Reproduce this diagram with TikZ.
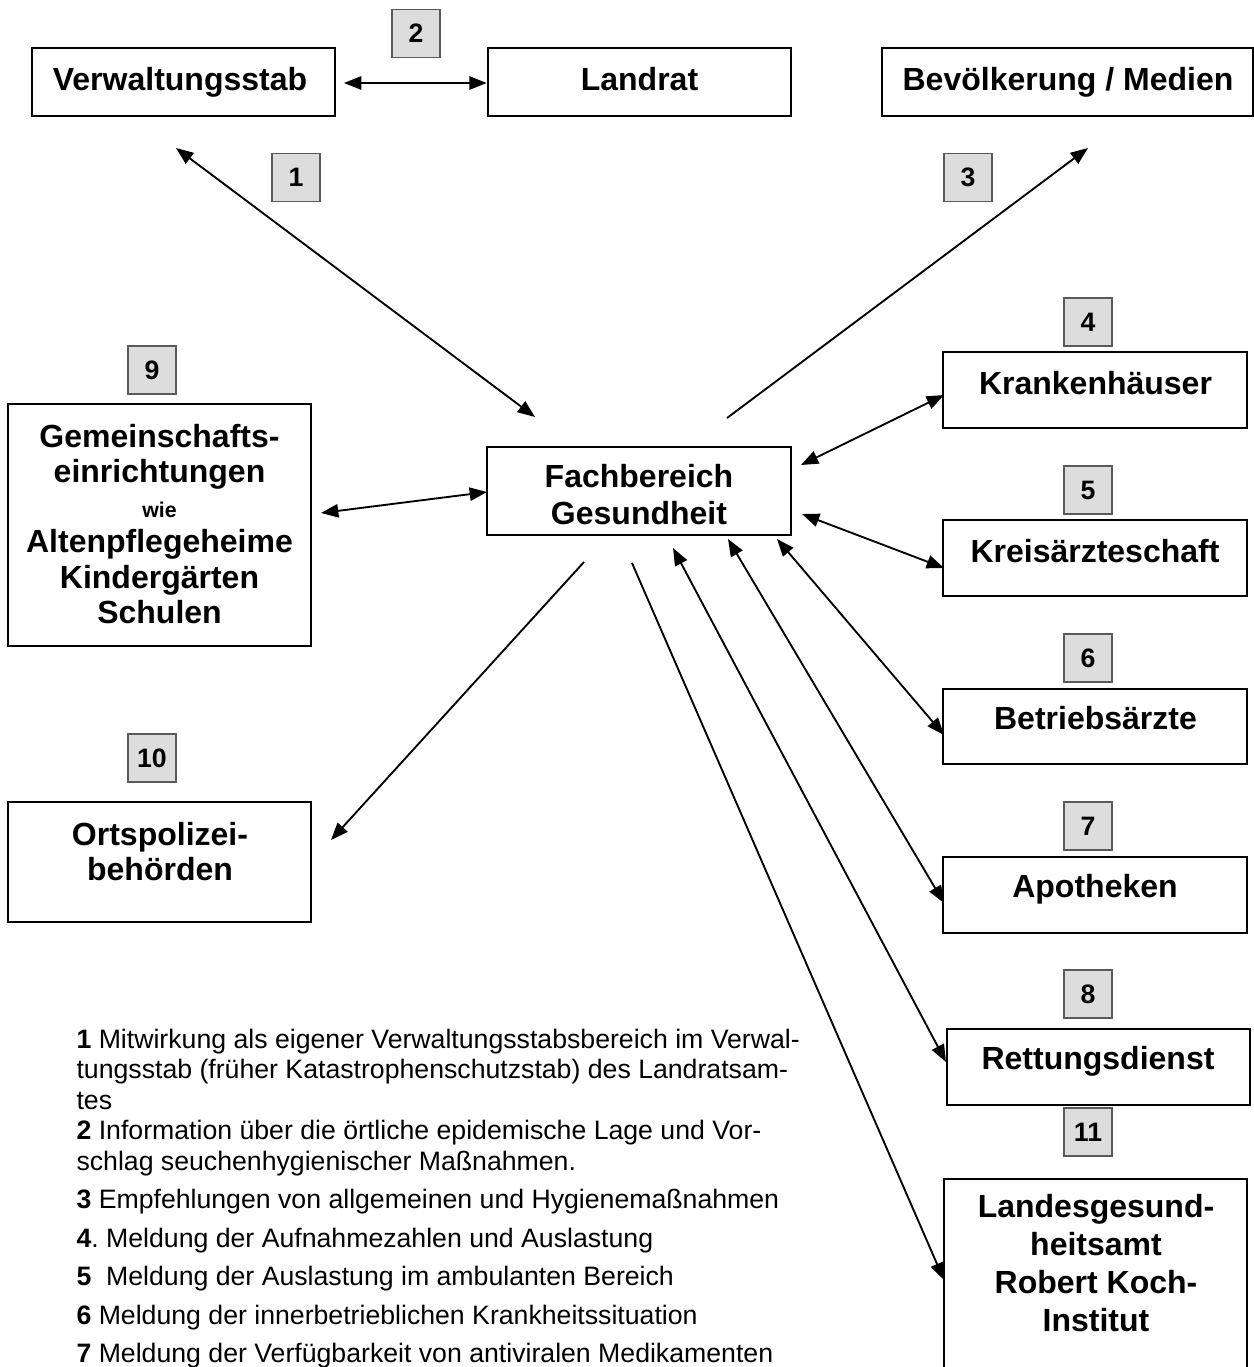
\documentclass[tikz,border=0pt]{standalone}
\usepackage{fontspec}
\setmainfont{Liberation Sans}
\usetikzlibrary{arrows.meta,fit}
\definecolor{numfill}{RGB}{221,221,221}
\definecolor{numdraw}{RGB}{90,90,90}
\frenchspacing
\begin{document}
\begin{tikzpicture}[x=0.375pt,y=-0.375pt,
  box/.style={draw=black,line width=1pt,fill=white,inner sep=0pt},
  numbox/.style={draw=numdraw,fill=numfill,line width=0.7pt,minimum width=18pt,minimum height=18pt,inner sep=0pt,font=\bfseries\fontsize{10}{11}\selectfont},
  title/.style={font=\bfseries\fontsize{12}{13.5}\selectfont,align=center,inner sep=0pt},
  conn/.style={line width=0.7pt,-{Triangle[length=6.5pt,width=5pt]}},
  biconn/.style={line width=0.7pt,{Triangle[length=6.5pt,width=5pt]}-{Triangle[length=6.5pt,width=5pt]}},
  plainline/.style={line width=0.7pt}
]
\useasboundingbox (0,0) rectangle (1254,1367);
\fill[white] (0,0) rectangle (1254,1367);

% main boxes
\node[box,fit={(32,48)(335,116)}] (vs) {};
\node[box,fit={(488,48)(791,116)}] (lr) {};
\node[box,fit={(882,48)(1253,116)}] (bm) {};
\node[box,fit={(487,447)(791,535)}] (fb) {};
\node[box,fit={(8,404)(311,646)}] (gem) {};
\node[box,fit={(8,802)(311,922)}] (op) {};
\node[box,fit={(943,352)(1247,428)}] (kh) {};
\node[box,fit={(943,520)(1247,596)}] (ka) {};
\node[box,fit={(943,689)(1247,764)}] (ba) {};
\node[box,fit={(943,857)(1247,933)}] (ap) {};
\node[box,fit={(947,1029)(1250,1105)}] (rd) {};
\node[box,fit={(944,1179)(1247,1380)}] (lga) {};

% titles
\node[title,anchor=base] (vst) at (180,90) {Verwaltungsstab};
\node[title,anchor=base] (lrt) at (639.5,90) {Landrat};
\node[title,anchor=base] (bmt) at (1068,90) {Bevölkerung / Medien};
\node[title,anchor=base] (kht) at (1095.5,394) {Krankenhäuser};
\node[title,anchor=base] (kat) at (1095,562) {Kreisärzteschaft};
\node[title,anchor=base] (bat) at (1095.5,729) {Betriebsärzte};
\node[title,anchor=base] (apt) at (1095,897) {Apotheken};
\node[title,anchor=base] (rdt) at (1098,1069) {Rettungsdienst};
\node[title,anchor=north,font=\bfseries\fontsize{12}{13.9}\selectfont] (fbt) at (639,463.6) {Fachbereich\\Gesundheit};
\node[title,anchor=north,font=\bfseries\fontsize{12}{13.2}\selectfont] (gemt) at (159.5,423.6) {Gemeinschafts-\\einrichtungen\\{\fontsize{8}{9}\selectfont wie}\\Altenpflegeheime\\Kindergärten\\Schulen};
\node[title,anchor=north,font=\bfseries\fontsize{12}{13.2}\selectfont] (opt) at (160,821.6) {Ortspolizei-\\behörden};
\node[title,anchor=north,font=\bfseries\fontsize{12}{14.25}\selectfont] (lgat) at (1096,1193.6) {Landesgesund-\\heitsamt\\Robert Koch-\\Institut};

% number boxes
\node[numbox] (n1) at (296,177.5) {1};
\node[numbox] (n2) at (416,33.5) {2};
\node[numbox] (n3) at (968,177.5) {3};
\node[numbox] (n4) at (1088,322) {4};
\node[numbox] (n5) at (1088,490) {5};
\node[numbox] (n6) at (1088,658) {6};
\node[numbox] (n7) at (1088,826) {7};
\node[numbox] (n8) at (1088,994) {8};
\node[numbox] (n9) at (152,370) {9};
\node[numbox] (n10) at (152,758) {10};
\node[numbox] (n11) at (1088,1132) {11};

% connector end points
\coordinate (a2a) at (344,83);
\coordinate (a1a) at (176,148);
\coordinate (a1b) at (535,417);
\coordinate (a3a) at (727,418);
\coordinate (a3b) at (1088,148);
\coordinate (a9a) at (321,513);
\coordinate (a9b) at (487,492);
\coordinate (a4a) at (801,465);
\coordinate (a4b) at (944,395);
\coordinate (a5a) at (802,514);
\coordinate (a5b) at (944,568);
\coordinate (a6a) at (777,539);
\coordinate (a6b) at (944,735);
\coordinate (a7a) at (728,539);
\coordinate (a7b) at (944,903);
\coordinate (a8a) at (673,548);
\coordinate (a8b) at (946,1062);
\coordinate (a11a) at (632,563);
\coordinate (a11b) at (944,1280);
\coordinate (a10a) at (584,562);
\coordinate (a10b) at (331,840);

% connectors
\draw[biconn] (a2a) -- (lr.west |- a2a);
\draw[biconn] (a1a) -- (a1b);
\draw[conn] (a3a) -- (a3b);
\draw[biconn] (a9a) -- (a9b);
\draw[biconn] (a4a) -- (a4b);
\draw[biconn] (a5a) -- (a5b);
\draw[biconn] (a6a) -- (a6b);
\draw[biconn] (a7a) -- (a7b);
\draw[biconn] (a8a) -- (a8b);
\draw[conn] (a11a) -- (a11b);
\draw[conn] (a10a) -- (a10b);

% legend text
\node[anchor=north west,inner sep=0pt,align=left,font=\fontsize{10}{11.44}\selectfont] (legend) at (76,1028.5) {%
\textbf{1} Mitwirkung als eigener Verwaltungsstabsbereich im Verwal-\\
tungsstab (früher Katastrophenschutzstab) des Landratsam-\\
tes\\
\textbf{2} Information über die örtliche epidemische Lage und Vor-\\
schlag seuchenhygienischer Maßnahmen.\\[3pt]
\textbf{3} Empfehlungen von allgemeinen und Hygienemaßnahmen\\[3pt]
\textbf{4}. Meldung der Aufnahmezahlen und Auslastung\\[3pt]
\textbf{5}\ \ Meldung der Auslastung im ambulanten Bereich\\[3pt]
\textbf{6} Meldung der innerbetrieblichen Krankheitssituation\\[3pt]
\textbf{7} Meldung der Verfügbarkeit von antiviralen Medikamenten};
\end{tikzpicture}
\end{document}
